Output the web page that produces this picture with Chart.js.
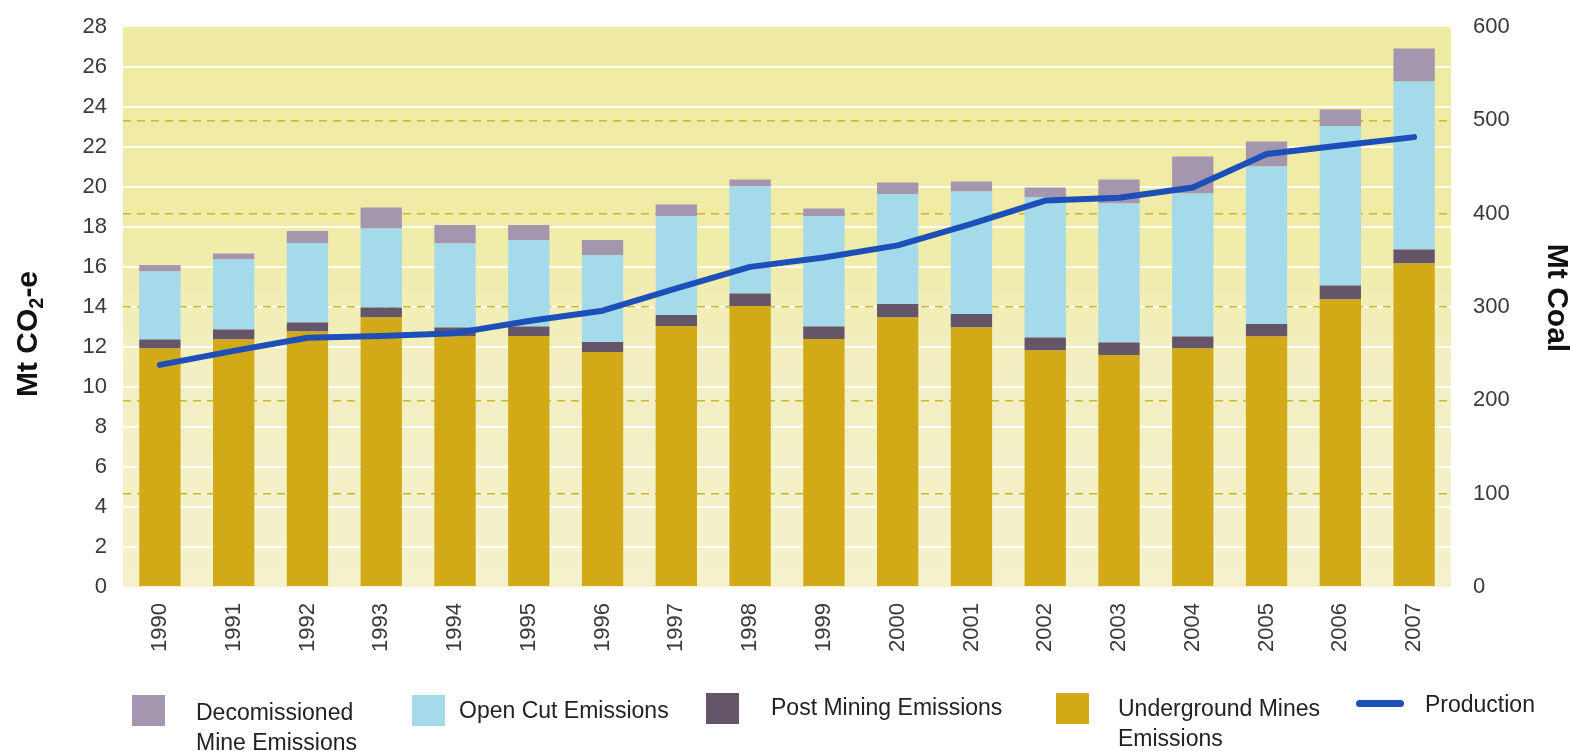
<!DOCTYPE html>
<html>
<head>
<meta charset="utf-8">
<script src="https://cdn.jsdelivr.net/npm/chart.js@4.4.1/dist/chart.umd.min.js"></script>
<style>
  html, body { margin: 0; padding: 0; background: #fff; }
  #wrap { position: relative; width: 1573px; height: 751px; overflow: hidden; }
  #emissionChart { position: absolute; left: 0; top: 0; }
  .legend-item { position: absolute; font: 23px "Liberation Sans", Arial, sans-serif; color: #222; line-height: 30px; }
  .swatch { position: absolute; width: 33px; height: 31px; }
  .line-swatch { position: absolute; width: 48px; height: 7px; border-radius: 4px; background: #1d4fb8; }
</style>
</head>
<body>
<div id="wrap">
  <canvas id="emissionChart" width="1573" height="751"></canvas>

  <div class="swatch" style="left:132px; top:695px; background:#a596af;"></div>
  <div class="legend-item" style="left:196px; top:697px;">Decomissioned<br>Mine Emissions</div>

  <div class="swatch" style="left:412px; top:695px; background:#a5daeb;"></div>
  <div class="legend-item" style="left:459px; top:695px;">Open Cut Emissions</div>

  <div class="swatch" style="left:706px; top:693px; background:#645569;"></div>
  <div class="legend-item" style="left:771px; top:692px;">Post Mining Emissions</div>

  <div class="swatch" style="left:1056px; top:693px; background:#d2a916;"></div>
  <div class="legend-item" style="left:1118px; top:693px;">Underground Mines<br>Emissions</div>

  <div class="line-swatch" style="left:1356px; top:700px;"></div>
  <div class="legend-item" style="left:1425px; top:689px;">Production</div>
</div>

<script>
// emissions by source (Mt CO2-e) and coal production (Mt)
const years = ['1990', '1991', '1992', '1993', '1994', '1995', '1996', '1997', '1998',
  '1999', '2000', '2001', '2002', '2003', '2004', '2005', '2006', '2007'];

const undergroundMines = [11.93, 12.38, 12.77, 13.48, 12.52, 12.55, 11.75, 13.05, 14.05,
  12.4, 13.48, 12.98, 11.82, 11.6, 11.93, 12.52, 14.38, 16.18];
const postMining = [0.45, 0.5, 0.46, 0.5, 0.46, 0.47, 0.5, 0.55, 0.63,
  0.62, 0.67, 0.67, 0.65, 0.62, 0.59, 0.63, 0.69, 0.7];
const openCut = [3.39, 3.5, 3.97, 3.95, 4.2, 4.33, 4.35, 4.95, 5.34,
  5.53, 5.5, 6.12, 7.0, 6.96, 7.16, 7.87, 7.98, 8.39];
const decommissioned = [0.33, 0.3, 0.6, 1.05, 0.92, 0.75, 0.75, 0.58, 0.36,
  0.38, 0.57, 0.5, 0.51, 1.2, 1.84, 1.25, 0.83, 1.66];
const production = [238, 253, 267, 269, 272, 285, 296, 320, 343,
  353, 366, 389, 414, 417, 428, 464, 473, 482];

const tickFont = { family: '"Liberation Sans", Arial, sans-serif', size: 22 };
const tickColor = '#3a3a3a';

// pale yellow plot background, stronger at the top
const plotBackground = {
  id: 'plotBackground',
  beforeDraw(chart) {
    const { ctx, chartArea: a } = chart;
    const g = ctx.createLinearGradient(0, a.top, 0, a.bottom);
    g.addColorStop(0, '#efeba2');
    g.addColorStop(0.4, '#f0eca9');
    g.addColorStop(0.6, '#f3efc3');
    g.addColorStop(1, '#f5f1cc');
    ctx.save();
    ctx.fillStyle = g;
    ctx.fillRect(a.left, a.top, a.right - a.left, a.bottom - a.top);
    ctx.restore();
  }
};

// rotated axis titles, the left one with a subscript 2
const axisTitles = {
  id: 'axisTitles',
  afterDraw(chart) {
    const ctx = chart.ctx;
    const big = 'bold 30px "Liberation Sans", Arial, sans-serif';
    const small = 'bold 20px "Liberation Sans", Arial, sans-serif';
    ctx.save();
    ctx.fillStyle = '#111';
    ctx.textBaseline = 'alphabetic';

    // left: Mt CO2-e, reading bottom to top
    const parts = [['Mt CO', big, 0], ['2', small, 6], ['-e', big, 0]];
    let total = 0;
    parts.forEach(p => { ctx.font = p[1]; total += ctx.measureText(p[0]).width; });
    ctx.translate(37, 334);
    ctx.rotate(-Math.PI / 2);
    let x = -total / 2;
    parts.forEach(p => {
      ctx.font = p[1];
      ctx.fillText(p[0], x, p[2]);
      x += ctx.measureText(p[0]).width;
    });
    ctx.restore();

    // right: Mt Coal, reading top to bottom
    ctx.save();
    ctx.fillStyle = '#111';
    ctx.font = big;
    ctx.textAlign = 'center';
    ctx.translate(1548, 298);
    ctx.rotate(Math.PI / 2);
    ctx.fillText('Mt Coal', 0, 0);
    ctx.restore();
  }
};

// fixed axis sizes; top/bottom label overhang is left to the layout padding
function fixWidth(w) {
  return scale => {
    scale.width = w;
    scale.paddingTop = 0;
    scale.paddingBottom = 0;
  };
}

const ctx = document.getElementById('emissionChart').getContext('2d');

new Chart(ctx, {
  type: 'bar',
  data: {
    labels: years,
    datasets: [
      {
        type: 'line',
        label: 'Production',
        data: production,
        yAxisID: 'y1',
        borderColor: '#1d4fb8',
        borderWidth: 6,
        pointRadius: 0,
        tension: 0,
        borderCapStyle: 'round',
        borderJoinStyle: 'round',
        order: 0
      },
      { label: 'Underground Mines Emissions', data: undergroundMines, backgroundColor: '#d2a916', order: 1 },
      { label: 'Post Mining Emissions', data: postMining, backgroundColor: '#645569', order: 1 },
      { label: 'Open Cut Emissions', data: openCut, backgroundColor: '#a5daeb', order: 1 },
      { label: 'Decomissioned Mine Emissions', data: decommissioned, backgroundColor: '#a596af', order: 1 }
    ]
  },
  options: {
    responsive: false,
    animation: false,
    layout: { padding: { top: 27, left: 0, right: 0, bottom: 0 } },
    datasets: {
      bar: { barPercentage: 0.56, categoryPercentage: 1.0, borderWidth: 0 }
    },
    plugins: {
      legend: { display: false },
      tooltip: { enabled: false }
    },
    scales: {
      x: {
        stacked: true,
        grid: { display: false },
        border: { display: false },
        ticks: {
          font: tickFont,
          color: tickColor,
          minRotation: 90,
          maxRotation: 90,
          padding: 8
        },
        afterFit: scale => { scale.height = 164; }
      },
      y: {
        stacked: true,
        position: 'left',
        min: 0,
        max: 28,
        border: { display: false },
        grid: {
          color: c => (c.tick.value === 0 || c.tick.value === 28) ? 'rgba(0,0,0,0)' : 'rgba(255,255,255,0.9)',
          lineWidth: 2,
          drawTicks: false
        },
        ticks: { stepSize: 2, font: tickFont, color: tickColor, padding: 16 },
        afterFit: fixWidth(123)
      },
      y1: {
        position: 'right',
        min: 0,
        max: 600,
        border: { display: false, dash: [8, 6] },
        grid: {
          color: c => (c.tick.value === 0 || c.tick.value === 600) ? 'rgba(0,0,0,0)' : '#c9b72c',
          lineWidth: 1.6,
          drawTicks: false
        },
        ticks: { stepSize: 100, font: tickFont, color: tickColor, padding: 22 },
        afterFit: fixWidth(122)
      }
    }
  },
  plugins: [plotBackground, axisTitles]
});
</script>
</body>
</html>
